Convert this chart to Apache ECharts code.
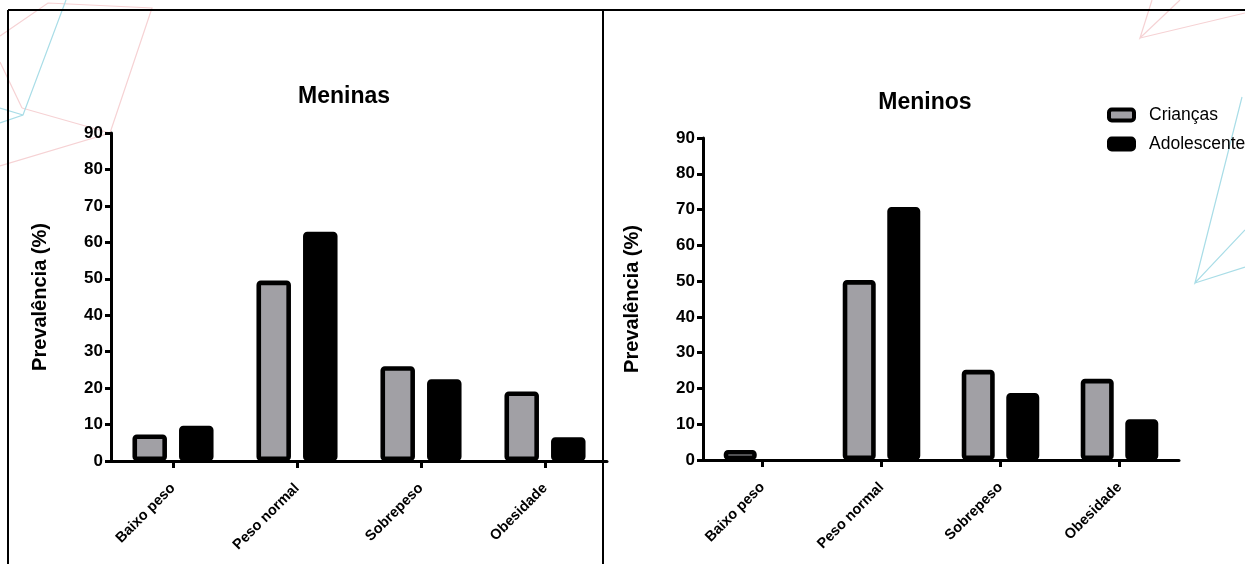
<!DOCTYPE html>
<html>
<head>
<meta charset="utf-8">
<script src="https://cdn.jsdelivr.net/npm/echarts@6/dist/echarts.min.js"></script>
<style>
html,body{margin:0;padding:0;background:#fff;}
#chart{width:1245px;height:564px;}
</style>
</head>
<body>
<div id="chart"></div>
<script>
// ---- data ----
const categories = ['Baixo peso', 'Peso normal', 'Sobrepeso', 'Obesidade'];
const seriesNames = ['Crianças', 'Adolescentes'];
const meninasCriancas = [7.3, 49.5, 26.0, 19.1];
const meninasAdolescentes = [9.7, 62.9, 22.4, 6.5];
const meninosCriancas = [2.8, 50.3, 25.2, 22.7];
const meninosAdolescentes = [0, 70.7, 18.7, 11.4];
const panelTitles = ['Meninas', 'Meninos'];
const yAxisName = 'Prevalência (%)';
const yTicks = { min: 0, max: 90, interval: 10 };

// ---- styles ----
const FONT = 'Liberation Sans, Arial, sans-serif';
const GRAY = '#a1a0a5';
const BLACK = '#000000';
const BW = 4.6;

const chart = echarts.init(document.getElementById('chart'), null, { renderer: 'canvas' });

function xAxisCfg(gridIndex) {
  return {
    type: 'category', gridIndex, data: categories, boundaryGap: true,
    axisLine: { show: true, lineStyle: { color: '#000', width: 3 } },
    axisTick: { show: true, alignWithLabel: true, length: 7, lineStyle: { color: '#000', width: 3 } },
    axisLabel: { rotate: 45, margin: 25, color: '#000', fontFamily: FONT, fontWeight: 'bold', fontSize: 14.5 },
    splitLine: { show: false }
  };
}
function yAxisCfg(gridIndex) {
  return {
    type: 'value', gridIndex, min: yTicks.min, max: yTicks.max, interval: yTicks.interval,
    name: yAxisName, nameLocation: 'middle', nameGap: 61,
    nameTextStyle: { color: '#000', fontFamily: FONT, fontWeight: 'bold', fontSize: 20 },
    axisLine: { show: true, lineStyle: { color: '#000', width: 3 } },
    axisTick: { show: true, length: 6, lineStyle: { color: '#000', width: 3 } },
    axisLabel: { margin: 8, color: '#000', fontFamily: FONT, fontWeight: 'bold', fontSize: 17 },
    splitLine: { show: false }
  };
}
function barSeries(name, values, idx, color, barWidth, barGap) {
  // a zero-height bar is not drawn (no border strip), as in the reference
  const data = values.map(v => v === 0 ? { value: v, itemStyle: { borderWidth: 0 } } : v);
  return {
    type: 'bar', name, data, xAxisIndex: idx, yAxisIndex: idx,
    barWidth, barGap,
    itemStyle: { color, borderColor: BLACK, borderWidth: BW, borderRadius: 2 },
    emphasis: { disabled: true }
  };
}

const pink = '#f6d2d4';
const blue = '#a9dde7';
function deco(points, color) {
  return { type: 'polyline', z: -10, silent: true, shape: { points }, style: { stroke: color, lineWidth: 1.2, fill: null } };
}

const option = {
  backgroundColor: '#ffffff',
  animation: false,
  title: [
    { text: panelTitles[0], left: 344, top: 85, padding: 0, textAlign: 'center',
      textStyle: { fontFamily: FONT, fontWeight: 'bold', fontSize: 23, color: '#000' } },
    { text: panelTitles[1], left: 925, top: 91, padding: 0, textAlign: 'center',
      textStyle: { fontFamily: FONT, fontWeight: 'bold', fontSize: 23, color: '#000' } }
  ],
  legend: {
    orient: 'vertical', left: 1107, top: 106, padding: 0, itemGap: 11,
    itemWidth: 25, itemHeight: 11, icon: 'roundRect',
    textStyle: { fontFamily: FONT, fontSize: 17.5, color: '#000', padding: [0, 0, 0, 10] },
    data: [
      { name: seriesNames[0], itemStyle: { color: GRAY, borderColor: BLACK, borderWidth: 4 } },
      { name: seriesNames[1], itemStyle: { color: BLACK, borderColor: BLACK, borderWidth: 4 } }
    ]
  },
  grid: [
    { left: 111, top: 133, width: 496, height: 328 },
    { left: 703, top: 138, width: 476, height: 322 }
  ],
  xAxis: [xAxisCfg(0), xAxisCfg(1)],
  yAxis: [yAxisCfg(0), yAxisCfg(1)],
  series: [
    barSeries(seriesNames[0], meninasCriancas, 0, GRAY, 34.5, '35%'),
    barSeries(seriesNames[1], meninasAdolescentes, 0, BLACK, 34.5, '35%'),
    barSeries(seriesNames[0], meninosCriancas, 1, GRAY, 33, '35%'),
    barSeries(seriesNames[1], meninosAdolescentes, 1, BLACK, 33, '35%')
  ],
  graphic: [
    // decorative background lines
    deco([[0, 36], [48, 3], [152, 8], [110, 133], [0, 166]], pink),
    deco([[22, 108], [110, 133]], pink),
    deco([[0, 62], [22, 108]], pink),
    deco([[66, 0], [23, 115], [0, 123]], blue),
    deco([[0, 108], [23, 115]], blue),
    deco([[1152, 0], [1140, 38], [1180, 0]], pink),
    deco([[1140, 38], [1245, 13]], pink),
    deco([[1242, 97], [1195, 283], [1245, 230]], blue),
    deco([[1195, 283], [1245, 267]], blue),
    // panel frame
    { type: 'line', z: 100, silent: true, shape: { x1: 8, y1: 10, x2: 1245, y2: 10 }, style: { stroke: '#000', lineWidth: 2 } },
    { type: 'line', z: 100, silent: true, shape: { x1: 8, y1: 10, x2: 8, y2: 564 }, style: { stroke: '#000', lineWidth: 2 } },
    { type: 'line', z: 100, silent: true, shape: { x1: 603, y1: 10, x2: 603, y2: 564 }, style: { stroke: '#000', lineWidth: 2 } }
  ]
};
chart.setOption(option);
</script>
</body>
</html>
